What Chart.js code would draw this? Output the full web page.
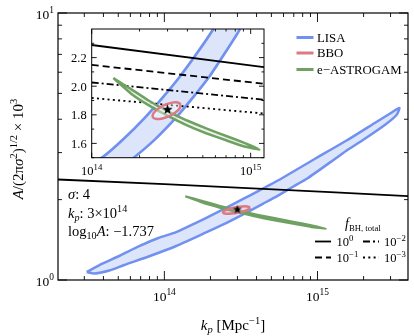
<!DOCTYPE html>
<html>
<head>
<meta charset="utf-8">
<script src="https://cdn.jsdelivr.net/npm/chart.js@4.4.1/dist/chart.umd.min.js"></script>
<style>
  html, body { margin: 0; padding: 0; background: #fff; }
  #wrap { position: relative; width: 414px; height: 336px; }
  canvas { position: absolute; left: 0; top: 0; }
</style>
</head>
<body>
<div id="wrap">
  <canvas id="main" width="414" height="336"></canvas>
  <canvas id="inset" width="414" height="336"></canvas>
</div>
<script>
// LISA contour (k_p, A/(2 pi sigma^2)^1/2 x 10^3), traced round the band
const lisaK = [3.11e13, 3.77e13, 5.07e13, 6.90e13, 9.14e13, 1.183e14, 1.585e14, 2.163e14, 2.818e14, 3.631e14, 4.624e14, 5.821e14, 9.46e14, 1.567e15, 2.366e15, 3.09e15, 3.43e15,
  3.28e15, 2.75e15, 1.98e15, 1.567e15, 1.312e15, 8.57e14, 6.92e14, 5.56e14, 4.365e14, 3.39e14, 2.512e14, 1.871e14, 1.194e14, 7.89e13, 5.46e13, 4.37e13, 3.50e13, 3.11e13];
const lisaA = [1.071, 1.138, 1.230, 1.341, 1.437, 1.507, 1.63, 1.78, 1.925, 2.075, 2.235, 2.40, 2.827, 3.344, 3.873, 4.26, 4.41,
  4.15, 3.807, 3.344, 3.069, 2.851, 2.40, 2.235, 2.075, 1.925, 1.78, 1.63, 1.507, 1.341, 1.225, 1.138, 1.085, 1.058, 1.071];

// BBO contour
const bboK = [3.63e14, 3.48e14, 3.21e14, 2.88e14, 2.62e14, 2.45e14, 2.42e14, 2.52e14, 2.74e14, 3.05e14, 3.36e14, 3.58e14, 3.63e14];
const bboA = [1.872, 1.886, 1.885, 1.869, 1.842, 1.812, 1.786, 1.772, 1.773, 1.789, 1.816, 1.846, 1.872];

// e-ASTROGAM contour
const astroK = [1.368e14, 1.778e14, 2.291e14, 2.992e14, 3.981e14, 5.248e14, 7.079e14, 9.12e14, 1.132e15, 9.12e14, 7.079e14, 5.248e14, 3.981e14, 2.992e14, 2.291e14, 1.778e14, 1.368e14];
const astroA = [2.057, 1.978, 1.898, 1.826, 1.760, 1.705, 1.650, 1.604, 1.558, 1.578, 1.620, 1.671, 1.726, 1.794, 1.866, 1.946, 2.057];

// f_BH,total lines
const fbhK = [2e13, 1e14, 1.21e15, 4e15];
const fbhSolid = [2.38, 2.288, 2.133, 2.06];
const insetK = [1e14, 1.21e15];
const fbhDashed = [2.149, 2.017];
const fbhDashDot = [2.026, 1.906];
const fbhDotted = [1.918, 1.809];

// fiducial point
const starK = [3e14];
const starA = [1.836];

// ticks
const mainXMajor = [1e14, 1e15];
const mainXMinor = [3e13, 4e13, 5e13, 6e13, 7e13, 8e13, 9e13, 2e14, 3e14, 4e14, 5e14, 6e14, 7e14, 8e14, 9e14, 2e15, 3e15];
const mainYMajor = [1, 10];
const mainYMinor = [2, 3, 4, 5, 6, 7, 8, 9];
const insetXMajor = [1e14, 1e15];
const insetXMinor = [2e14, 3e14, 4e14, 5e14, 6e14, 7e14, 8e14, 9e14];
const insetYMajor = [1.6, 1.8, 2.0, 2.2];
const insetYMinor = [1.5, 1.7, 1.9, 2.1, 2.3];
const mainXLabels = ['14', '15'];
const mainYLabels = ['0', '1'];
const insetXLabels = ['14', '15'];
const insetYLabels = ['1.6', '1.8', '2.0', '2.2'];

const FAM = '"Liberation Serif", "DejaVu Serif", serif';
const BLUE = '#7191f0', BLUE_FILL = '#dde5fb';
const RED = '#dc7a84', GREEN = '#6fa163';

function pts(ks, as) {
  return ks.map((k, i) => ({ x: k, y: as[i] }));
}

function makeStar(r) {
  const c = document.createElement('canvas');
  const s = Math.ceil(r * 2 + 2);
  c.width = s; c.height = s;
  const g = c.getContext('2d');
  g.beginPath();
  for (let i = 0; i < 10; i++) {
    const rr = i % 2 ? r * 0.42 : r;
    const a = -Math.PI / 2 + i * Math.PI / 5;
    const px = s / 2 + rr * Math.cos(a), py = s / 2 + rr * Math.sin(a);
    if (i) g.lineTo(px, py); else g.moveTo(px, py);
  }
  g.closePath();
  g.fillStyle = '#000';
  g.fill();
  return c;
}

// rich text: runs of {t, i(talic), sup, sub, s(cale)}
function drawRich(ctx, runs, x, y, size, align) {
  let w = 0;
  const parts = runs.map(r => {
    const s = size * (r.s || ((r.sup || r.sub) ? 0.7 : 1));
    const f = (r.i ? 'italic ' : '') + s + 'px ' + FAM;
    ctx.font = f;
    const ww = ctx.measureText(r.t).width;
    w += ww;
    return { r, f, ww };
  });
  let cx = align === 'center' ? x - w / 2 : align === 'right' ? x - w : x;
  ctx.textAlign = 'left';
  ctx.textBaseline = 'alphabetic';
  ctx.fillStyle = '#000';
  parts.forEach(p => {
    ctx.font = p.f;
    const dy = p.r.sup ? -size * 0.4 : p.r.sub ? size * 0.22 : 0;
    ctx.fillText(p.r.t, cx, y + dy);
    cx += p.ww;
  });
}

function drawFrame(chart, xMaj, xMin, yMaj, yMin, majLen, minLen, lw) {
  const { ctx, chartArea: a } = chart;
  const xs = chart.scales.x, ys = chart.scales.y;
  ctx.save();
  ctx.strokeStyle = '#000';
  ctx.lineWidth = 0.9;
  ctx.beginPath();
  const tx = (v, len) => {
    const p = xs.getPixelForValue(v);
    ctx.moveTo(p, a.bottom); ctx.lineTo(p, a.bottom - len);
    ctx.moveTo(p, a.top); ctx.lineTo(p, a.top + len);
  };
  const ty = (v, len) => {
    const p = ys.getPixelForValue(v);
    ctx.moveTo(a.left, p); ctx.lineTo(a.left + len, p);
    ctx.moveTo(a.right, p); ctx.lineTo(a.right - len, p);
  };
  xMaj.forEach(v => tx(v, majLen));
  xMin.forEach(v => tx(v, minLen));
  yMaj.forEach(v => ty(v, majLen));
  yMin.forEach(v => ty(v, minLen));
  ctx.stroke();
  ctx.lineWidth = lw;
  ctx.strokeRect(a.left, a.top, a.right - a.left, a.bottom - a.top);
  ctx.restore();
}

function lineDs(ks, as, dash, order) {
  return {
    data: pts(ks, as), borderColor: '#000', borderWidth: 1.8, borderDash: dash,
    fill: false, pointRadius: 0, tension: 0, order: order
  };
}

function contourDs(ks, as, color, fillColor, width, tension, order) {
  return {
    data: pts(ks, as), borderColor: color, backgroundColor: fillColor, borderWidth: width,
    fill: 'shape', pointRadius: 0, tension: tension, order: order
  };
}

function starDs(r) {
  return {
    data: pts(starK, starA), showLine: false, pointStyle: makeStar(r),
    pointRadius: 5, order: 0
  };
}

const baseOptions = (pad, xr, yr, ytype) => ({
  responsive: false,
  animation: false,
  events: [],
  layout: { padding: pad },
  scales: {
    x: { type: 'logarithmic', min: xr[0], max: xr[1], display: false },
    y: { type: ytype, min: yr[0], max: yr[1], display: false }
  },
  elements: { line: { capBezierPoints: false } },
  plugins: { legend: { display: false }, tooltip: { enabled: false } }
});

const mainFrame = {
  id: 'mainFrame',
  afterDatasetsDraw(chart) {
    const ctx = chart.ctx;
    drawFrame(chart, mainXMajor, mainXMinor, mainYMajor, mainYMinor, 9, 4, 1.2);
    const a = chart.chartArea;
    mainXMajor.forEach((v, i) => {
      drawRich(ctx, [{ t: '10' }, { t: mainXLabels[i], sup: 1 }], chart.scales.x.getPixelForValue(v), 300.5, 13.5, 'center');
    });
    mainYMajor.forEach((v, i) => {
      drawRich(ctx, [{ t: '10' }, { t: mainYLabels[i], sup: 1 }], a.left - 4, chart.scales.y.getPixelForValue(v) + 5.5, 13.5, 'right');
    });
    // axis titles
    drawRich(ctx, [{ t: 'k', i: 1 }, { t: 'p', i: 1, sub: 1 }, { t: ' [Mpc' }, { t: '−1', sup: 1 }, { t: ']' }], (a.left + a.right) / 2, 330, 15, 'center');
    ctx.save();
    ctx.translate(18, 149);
    ctx.rotate(-Math.PI / 2);
    drawRich(ctx, [{ t: 'A', i: 1 }, { t: '/(2π' }, { t: 'σ', i: 1 }, { t: '2', sup: 1 }, { t: ')' }, { t: '1/2', sup: 1 }, { t: ' × 10' }, { t: '3', sup: 1 }], 0, 5, 15, 'center');
    ctx.restore();
    // parameter annotation
    drawRich(ctx, [{ t: 'σ', i: 1 }, { t: ': 4' }], 68, 199, 14.5, 'left');
    drawRich(ctx, [{ t: 'k', i: 1 }, { t: 'p', i: 1, sub: 1 }, { t: ': 3×10' }, { t: '14', sup: 1 }], 68, 218, 14.5, 'left');
    drawRich(ctx, [{ t: 'log' }, { t: '10', sub: 1 }, { t: 'A', i: 1 }, { t: ': −1.737' }], 68, 236, 14.5, 'left');
    // experiment legend
    const leg = [['LISA', BLUE, 37.5], ['BBO', RED, 53], ['e−ASTROGAM', GREEN, 69.5]];
    leg.forEach(([name, col, yy]) => {
      ctx.save();
      ctx.strokeStyle = col; ctx.lineWidth = 3;
      ctx.beginPath(); ctx.moveTo(296.5, yy); ctx.lineTo(313.5, yy); ctx.stroke();
      ctx.restore();
      drawRich(ctx, [{ t: name }], 317, yy + 4.3, 12.8, 'left');
    });
    // f_BH legend
    drawRich(ctx, [{ t: 'f', i: 1 }, { t: 'BH, total', sub: 1, s: 0.62 }], 345, 228, 14, 'left');
    const rows = [
      [[], '0', 241.5, 315, 336.5], [[7, 3, 2, 3], '−2', 241.5, 363, 384],
      [[7, 4], '−1', 257.5, 315, 336.5], [[2, 3.3], '−3', 257.5, 363, 384]
    ];
    rows.forEach(([dash, ex, yy, lx, tx]) => {
      ctx.save();
      ctx.strokeStyle = '#000'; ctx.lineWidth = 1.8; ctx.setLineDash(dash);
      ctx.beginPath(); ctx.moveTo(lx, yy); ctx.lineTo(lx + 16, yy); ctx.stroke();
      ctx.restore();
      drawRich(ctx, [{ t: '10' }, { t: ex, sup: 1 }], tx, yy + 4.5, 12.5, 'left');
    });
  }
};

const insetFrame = {
  id: 'insetFrame',
  beforeDatasetsDraw(chart) {
    const { ctx, chartArea: a } = chart;
    ctx.save();
    ctx.fillStyle = '#fff';
    ctx.fillRect(a.left, a.top, a.right - a.left, a.bottom - a.top);
    ctx.restore();
  },
  afterDatasetsDraw(chart) {
    const ctx = chart.ctx;
    drawFrame(chart, insetXMajor, insetXMinor, insetYMajor, insetYMinor, 5, 2.5, 1);
    const a = chart.chartArea;
    insetXMajor.forEach((v, i) => {
      drawRich(ctx, [{ t: '10' }, { t: insetXLabels[i], sup: 1 }], chart.scales.x.getPixelForValue(v), 175, 12.5, 'center');
    });
    insetYMajor.forEach((v, i) => {
      drawRich(ctx, [{ t: insetYLabels[i] }], a.left - 5, chart.scales.y.getPixelForValue(v) + 4.5, 12.5, 'right');
    });
  }
};

new Chart(document.getElementById('main'), {
  type: 'line',
  data: {
    datasets: [
      contourDs(lisaK, lisaA, BLUE, BLUE_FILL, 2.5, 0.2, 5),
      lineDs(fbhK, fbhSolid, [], 4),
      contourDs(astroK, astroA, GREEN, GREEN, 2.1, 0.1, 3),
      contourDs(bboK, bboA, RED, 'rgba(235,160,170,0.2)', 2.5, 0.3, 2),
      starDs(4.6)
    ]
  },
  options: baseOptions({ left: 58, top: 13, right: 0, bottom: 56 }, [2.02e13, 3.9e15], [1, 10], 'logarithmic'),
  plugins: [mainFrame]
});

new Chart(document.getElementById('inset'), {
  type: 'line',
  data: {
    datasets: [
      contourDs(lisaK, lisaA, BLUE, BLUE_FILL, 2.7, 0.2, 8),
      lineDs(fbhK, fbhSolid, [], 7),
      lineDs(insetK, fbhDashed, [7, 4], 6),
      lineDs(insetK, fbhDashDot, [7, 3, 2, 3], 5),
      lineDs(insetK, fbhDotted, [2, 3.3], 4),
      contourDs(astroK, astroA, GREEN, 'rgba(235,242,232,0.85)', 2.5, 0.1, 3),
      contourDs(bboK, bboA, RED, 'rgba(255,255,255,0.4)', 2.5, 0.3, 2),
      starDs(5.3)
    ]
  },
  options: baseOptions({ left: 91.7, top: 29, right: 150, bottom: 178.3 }, [1e14, 1.213e15], [1.5, 2.4], 'linear'),
  plugins: [insetFrame]
});
</script>
</body>
</html>
